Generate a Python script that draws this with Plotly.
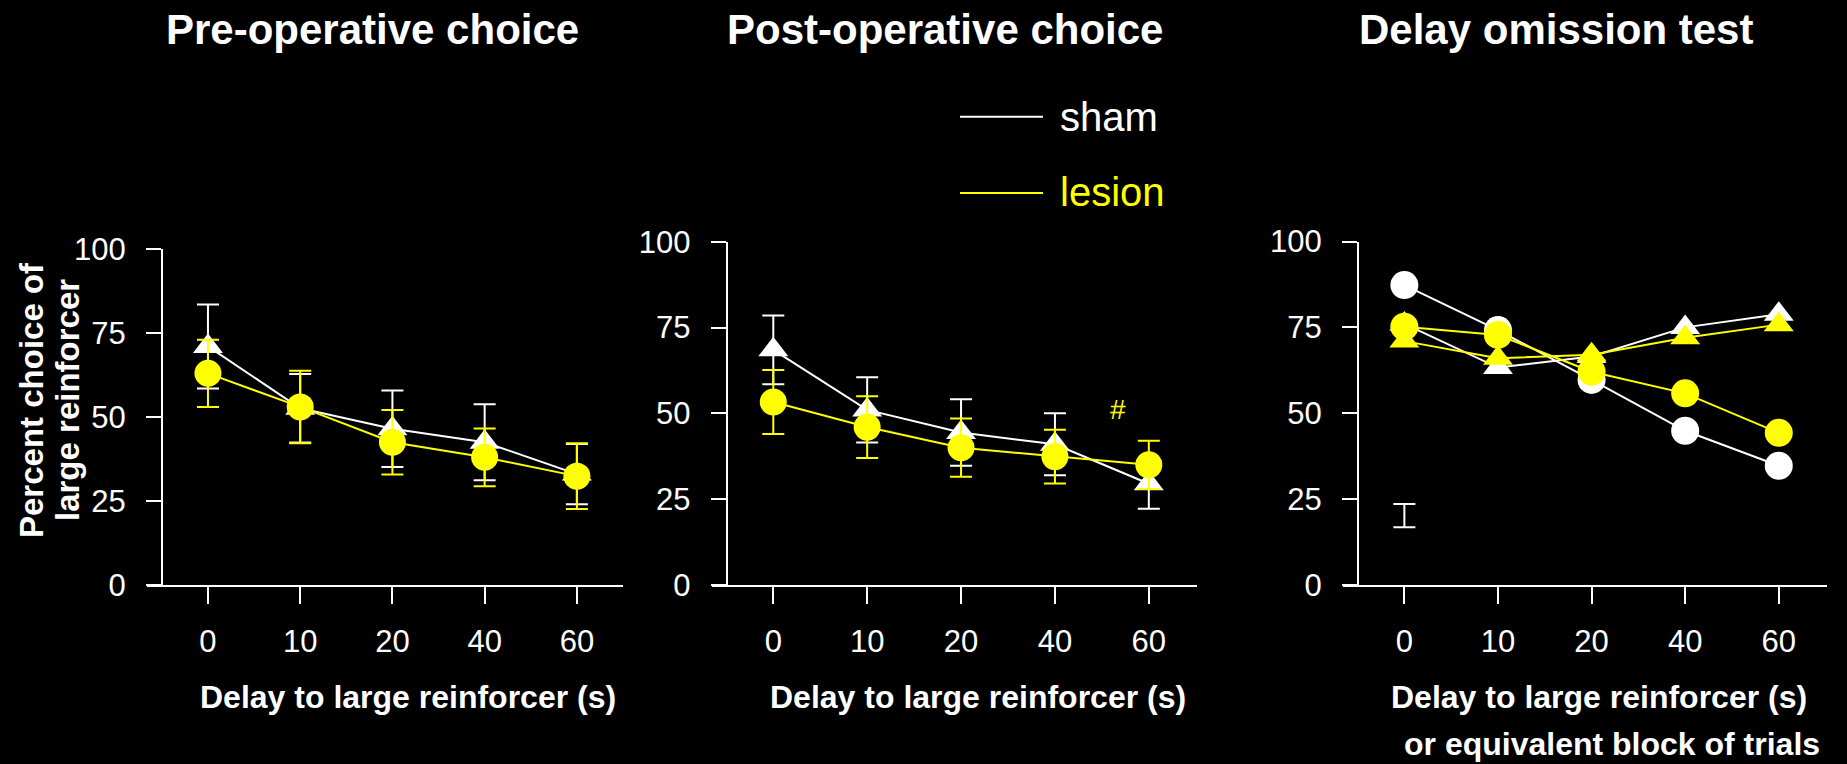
import plotly.graph_objects as go

W, H = 1847, 764

# categories on the x axis (delay in s)
delays = ["0", "10", "20", "40", "60"]

# pre-operative choice (means and SEM)
pre_sham = [71, 52.6, 46.5, 42.5, 33]
pre_sham_se = [12.5, 10.2, 11.4, 11.3, 9]
pre_lesion = [63, 53, 42.5, 38, 32.4]
pre_lesion_se = [10, 10.8, 9.6, 8.6, 9.8]

# post-operative choice
post_sham = [68.5, 51, 44.4, 41, 29.5]
post_sham_se = [10, 9.5, 9.7, 9, 7.3]
post_lesion = [53.3, 46, 40, 37.4, 35]
post_lesion_se = [9.3, 9, 8.5, 7.8, 7]

# delay omission test (circles = delayed, triangles = no delay)
omit_sham_delay = [87.3, 74.2, 59.7, 44.9, 34.7]
omit_sham_nodelay = [76, 63.3, 66.5, 75, 78.8]
omit_lesion_delay = [75.2, 72.8, 62.1, 55.8, 44.3]
omit_lesion_nodelay = [71, 66, 67, 72, 75.8]
omit_sed_x = ["0"]
omit_sed = [20.2]
omit_sed_err = [3.4]

titles = ["Pre-operative choice", "Post-operative choice", "Delay omission test"]
xlabel = "Delay to large reinforcer (s)"

WHITE = "#ffffff"
YELLOW = "#ffff00"
FONT = "Liberation Sans, Arial, sans-serif"


def px(x):
    return x / W


def py(y):
    return 1 - y / H


fig = go.Figure()


def add(xa, ya, y, color, symbol, err=None, size=27):
    tr = dict(
        x=delays, y=y, xaxis=xa, yaxis=ya, mode="lines+markers",
        line=dict(color=color, width=2),
        marker=dict(color=color, symbol=symbol, size=size, line=dict(width=0)),
        showlegend=False, cliponaxis=False,
    )
    if err is not None:
        tr["error_y"] = dict(type="data", array=err, color=color, thickness=2, width=11)
    fig.add_trace(go.Scatter(**tr))


# panel 1
add("x", "y", pre_sham, WHITE, "triangle-up", pre_sham_se, 26)
add("x", "y", pre_lesion, YELLOW, "circle", pre_lesion_se)
# panel 2
add("x2", "y2", post_sham, WHITE, "triangle-up", post_sham_se, 26)
add("x2", "y2", post_lesion, YELLOW, "circle", post_lesion_se)
# panel 3
add("x3", "y3", omit_sham_nodelay, WHITE, "triangle-up", None, 26)
add("x3", "y3", omit_sham_delay, WHITE, "circle", None, 28)
add("x3", "y3", omit_lesion_nodelay, YELLOW, "triangle-up", None, 26)
add("x3", "y3", omit_lesion_delay, YELLOW, "circle", None, 28)
fig.add_trace(go.Scatter(
    x=omit_sed_x, y=omit_sed, xaxis="x3", yaxis="y3", mode="markers",
    marker=dict(size=1, color="rgba(0,0,0,0)"),
    error_y=dict(type="data", array=omit_sed_err, color=WHITE, thickness=2, width=11),
    showlegend=False,
))

# axis geometry in pixels: x-line start/end, y-line position, top of y-axis
panels = [
    dict(x0=147, x1=623, yx=162, top=249, rng=[-0.661, 4.5]),
    dict(x0=711.7, x1=1196.7, yx=726.7, top=241.7, rng=[-0.656, 4.51]),
    dict(x0=1342.6, x1=1826.5, yx=1358, top=241.5, rng=[-0.66, 4.51]),
]
bottom = 585

layout = dict(
    width=W, height=H, paper_bgcolor="black", plot_bgcolor="black",
    margin=dict(l=0, r=0, t=0, b=0, autoexpand=False), showlegend=False,
    font=dict(family=FONT, color=WHITE),
)
for i, p in enumerate(panels):
    s = "" if i == 0 else str(i + 1)
    layout["xaxis" + s] = dict(
        type="category", categoryorder="array", categoryarray=delays,
        range=p["rng"], domain=[px(p["x0"]), px(p["x1"])], anchor="y" + s,
        showline=True, linecolor=WHITE, linewidth=2, ticks="outside",
        ticklen=17, tickwidth=2, tickcolor=WHITE, showgrid=False, zeroline=False,
        tickfont=dict(size=31, color=WHITE, family=FONT), ticklabelstandoff=11,
        automargin=False,
    )
    layout["yaxis" + s] = dict(
        range=[0, 100], domain=[py(bottom), py(p["top"])], anchor="free",
        position=px(p["yx"]), tickvals=[0, 25, 50, 75, 100],
        showline=True, linecolor=WHITE, linewidth=2, ticks="outside",
        ticklen=15, tickwidth=2, tickcolor=WHITE, showgrid=False, zeroline=False,
        tickfont=dict(size=31, color=WHITE, family=FONT), ticklabelstandoff=14,
        automargin=False,
    )
fig.update_layout(**layout)

ann = []
for t, cx in zip(titles, [372, 945, 1556]):
    ann.append(dict(x=px(cx), y=py(30), text="<b>%s</b>" % t,
                    font=dict(size=42, color=WHITE)))
for cx in [408, 978, 1599]:
    ann.append(dict(x=px(cx), y=py(697), text="<b>%s</b>" % xlabel,
                    font=dict(size=32, color=WHITE)))
ann.append(dict(x=px(1612), y=py(744), text="<b>or equivalent block of trials</b>",
                font=dict(size=32, color=WHITE)))
ann.append(dict(x=px(31), y=py(400), text="<b>Percent choice of</b>",
                textangle=-90, font=dict(size=33, color=WHITE)))
ann.append(dict(x=px(67), y=py(400), text="<b>large reinforcer</b>",
                textangle=-90, font=dict(size=33, color=WHITE)))
# significance mark
ann.append(dict(x=3.67, y=51, xref="x2", yref="y2", text="#",
                font=dict(size=28, color=YELLOW)))
# legend
ann.append(dict(x=px(1058), y=py(117), text="sham", xanchor="left",
                font=dict(size=40, color=WHITE)))
ann.append(dict(x=px(1058), y=py(192), text="lesion", xanchor="left",
                font=dict(size=40, color=YELLOW)))
for a in ann:
    a.setdefault("xref", "paper")
    a.setdefault("yref", "paper")
    a.setdefault("xanchor", "center")
    a.setdefault("yanchor", "middle")
    a["showarrow"] = False
fig.update_layout(annotations=ann)

fig.add_shape(type="line", xref="paper", yref="paper", x0=px(960), x1=px(1043),
              y0=py(116.7), y1=py(116.7), line=dict(color=WHITE, width=2))
fig.add_shape(type="line", xref="paper", yref="paper", x0=px(960), x1=px(1043),
              y0=py(193), y1=py(193), line=dict(color=YELLOW, width=2))

fig.write_html("out.html", config={"displayModeBar": False}, post_script=(
    "document.body.style.margin='0';"
    "document.body.style.background='black';"
    "document.body.style.overflow='hidden';"
))
